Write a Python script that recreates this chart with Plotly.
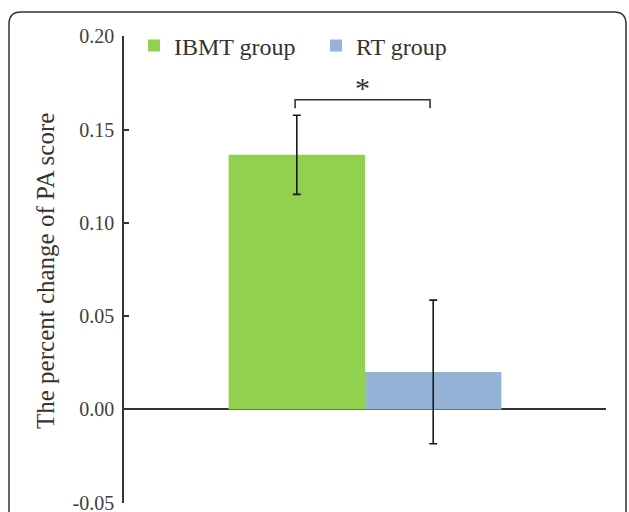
import plotly.graph_objects as go

# ---- data ----
groups = ["IBMT group", "RT group"]
values = [0.1365, 0.0201]
errors = [0.0212, 0.0385]
colors = ["#92D050", "#95B3D7"]
tick_vals = [-0.05, 0.00, 0.05, 0.10, 0.15, 0.20]
tick_text = ["-0.05", "0.00", "0.05", "0.10", "0.15", "0.20"]
y_title = "The percent change of PA score"
sig_label = "*"
bracket_x = [-0.145, 0.135]
bracket_y = [0.1615, 0.166]

W, H = 629, 512
L, R, T, B = 124, 23, 36, 9
pw, ph = W - L - R, H - T - B

def px(x):
    return (x - L) / pw

def py(y):
    return (H - B - y) / ph

FONT = "Liberation Serif, Times New Roman, serif"

fig = go.Figure()
for g, v, e, c in zip(groups, values, errors, colors):
    fig.add_trace(go.Bar(
        x=[0], y=[v], name=g, marker=dict(color=c, line=dict(width=0)),
        error_y=dict(type="data", array=[e], visible=True, color="#1a1a1a",
                     thickness=1.6, width=4),
    ))

# significance bracket
fig.add_shape(type="path", xref="x", yref="y",
              path=(f"M {bracket_x[0]},{bracket_y[0]} L {bracket_x[0]},{bracket_y[1]} "
                    f"L {bracket_x[1]},{bracket_y[1]} L {bracket_x[1]},{bracket_y[0]}"),
              line=dict(color="#333333", width=1.6))
fig.add_annotation(x=sum(bracket_x) / 2, y=bracket_y[1], text=sig_label, showarrow=False,
                   yanchor="bottom", yshift=-6, font=dict(family=FONT, size=30, color="#333333"))

# y-axis title
fig.add_annotation(x=px(45), y=py(271), xref="paper", yref="paper", text=y_title,
                   textangle=-90, showarrow=False, xanchor="center", yanchor="middle",
                   font=dict(family=FONT, size=25, color="#333333"))

# rounded frame
x0, x1, y0, y1, r = px(9), px(626), py(520), py(12), 12
rx, ry = r / pw, r / ph
frame = (f"M {x0},{y0} L {x0},{y1 - ry} Q {x0},{y1} {x0 + rx},{y1} "
         f"L {x1 - rx},{y1} Q {x1},{y1} {x1},{y1 - ry} L {x1},{y0}")
fig.add_shape(type="path", xref="paper", yref="paper", path=frame,
              line=dict(color="#333333", width=1.5))

fig.update_layout(
    width=W, height=H,
    margin=dict(l=L, r=R, t=T, b=B, pad=0, autoexpand=False),
    paper_bgcolor="white", plot_bgcolor="white",
    barmode="group", bargap=0.434, bargroupgap=0,
    showlegend=True,
    font=dict(family=FONT),
    legend=dict(orientation="h", x=px(134), y=py(46), xanchor="left", yanchor="middle",
                font=dict(family=FONT, size=24, color="#333333"),
                entrywidth=137, entrywidthmode="pixels",
                bgcolor="rgba(0,0,0,0)", traceorder="normal"),
    xaxis=dict(range=[-0.5, 0.5], visible=False, fixedrange=True, automargin=False),
    yaxis=dict(range=[-0.0502, 0.2002], tickvals=tick_vals, ticktext=tick_text,
               automargin=False,
               showline=True, linecolor="#333333", linewidth=1.5,
               ticks="inside", ticklen=5, tickwidth=1.5, tickcolor="#333333",
               showgrid=False, zeroline=True, zerolinecolor="#333333", zerolinewidth=1.5,
               tickfont=dict(family=FONT, size=20, color="#404040"),
               ticklabelstandoff=4, ticklabeloverflow="allow"),
)

fig.write_html("out.html")
